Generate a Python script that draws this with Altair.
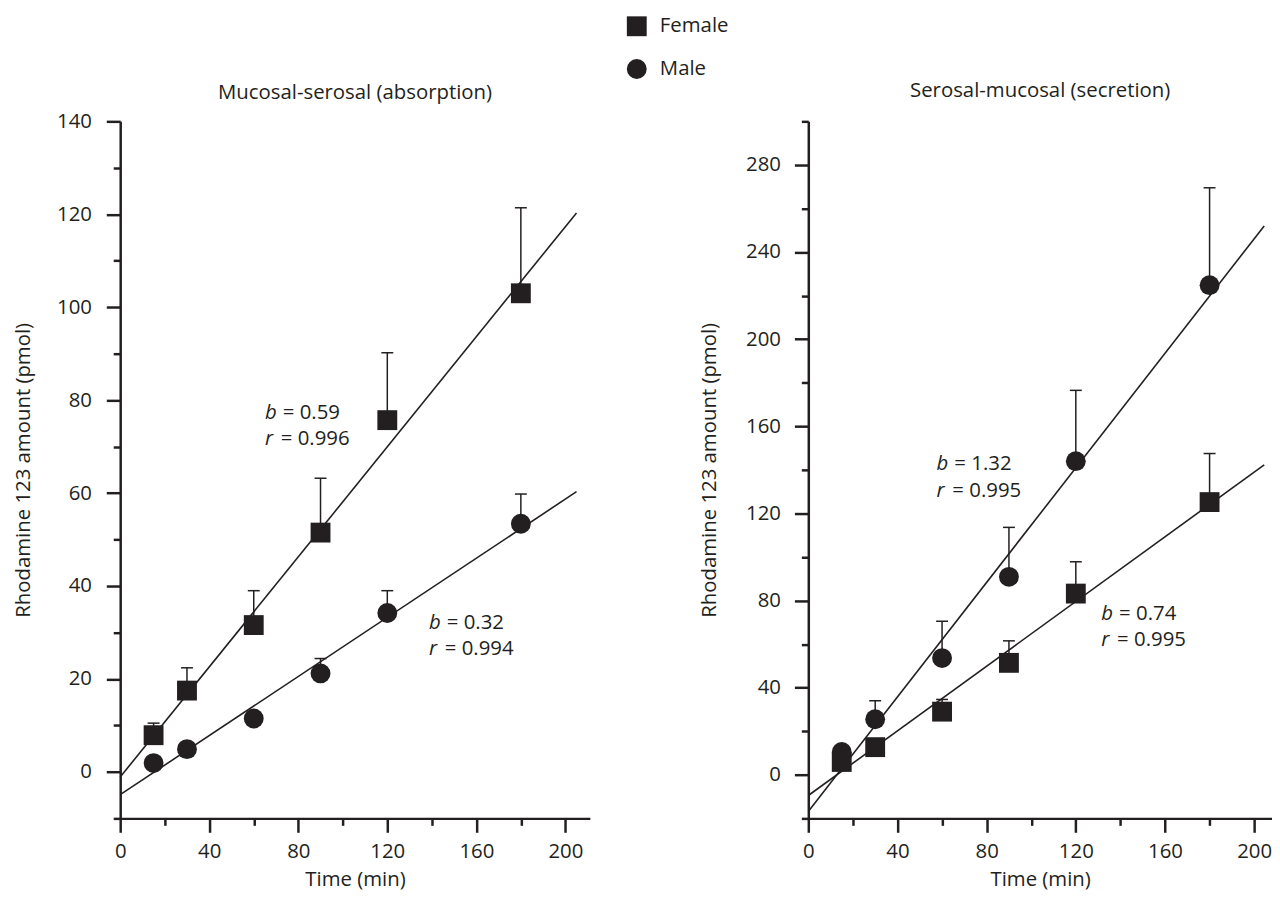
import altair as alt
import pandas as pd

INK = "#231f20"
FONT = "Open Sans"
FS = 20.5

# ---------------- data ----------------
time_min = [15, 30, 60, 90, 120, 180]

# Mucosal-serosal (absorption)
abs_female = [7.9, 17.5, 31.6, 51.5, 75.7, 103.0]
abs_female_top = [10.5, 22.4, 39.0, 63.2, 90.2, 121.4]
abs_male = [1.9, 4.9, 11.5, 21.2, 34.2, 53.4]
abs_male_top = [None, None, None, 24.4, 39.0, 59.8]

# Serosal-mucosal (secretion)
sec_female = [5.9, 12.7, 29.0, 51.4, 83.2, 125.2]
sec_female_top = [None, None, 34.6, 61.5, 97.8, 147.5]
sec_male = [10.5, 25.5, 53.6, 90.9, 144.0, 224.8]
sec_male_top = [None, 34.0, 70.5, 113.6, 176.5, 269.5]

# regression line end points
abs_fit_x = [0, 205]
abs_fit_female = [-1.1, 120.3]
abs_fit_male = [-4.9, 60.3]
sec_fit_x = [0, 204.5]
sec_fit_female = [-9.5, 142.3]
sec_fit_male = [-16.8, 252.0]

# annotations
abs_ann_letter = ["b", "r", "b", "r"]
abs_ann_rest = ["= 0.59", "= 0.996", "= 0.32", "= 0.994"]
abs_ann_x = [65, 65, 138.7, 138.7]
abs_ann_y = [77.2, 71.6, 32.0, 26.4]

sec_ann_letter = ["b", "r", "b", "r"]
sec_ann_rest = ["= 1.32", "= 0.995", "= 0.74", "= 0.995"]
sec_ann_x = [57.5, 57.5, 131.4, 131.4]
sec_ann_y = [142.7, 130.5, 73.8, 61.7]

# axis ticks
x_major_ticks = [0, 40, 80, 120, 160, 200]
x_minor_ticks = [20, 60, 100, 140, 180]
abs_y_major = [0, 20, 40, 60, 80, 100, 120, 140]
abs_y_minor = [-10, 10, 30, 50, 70, 90, 110, 130]
sec_y_major = [0, 40, 80, 120, 160, 200, 240, 280]
sec_y_minor = [-20, 20, 60, 100, 140, 180, 220, 260, 300]

sexes = ["Female", "Male"]
shapes = ["square", "circle"]


def points_frame(female, female_top, male, male_top):
    rows = []
    for sex, vals, tops in (("Female", female, female_top), ("Male", male, male_top)):
        for t, v, top in zip(time_min, vals, tops):
            rows.append({"t": t, "v": v, "top": top, "sex": sex})
    return pd.DataFrame(rows)


def fit_frame(xs, female, male):
    rows = []
    for sex, vals in (("Female", female), ("Male", male)):
        for t, v in zip(xs, vals):
            rows.append({"t": t, "v": v, "sex": sex})
    return pd.DataFrame(rows)


def ann_frame(letters, rests, xs, ys):
    return pd.DataFrame({"letter": letters, "rest": rests, "t": xs, "v": ys})


legend = alt.Legend(
    orient="none", legendX=510, legendY=-106, title=None,
    symbolSize=400, symbolFillColor=INK, symbolStrokeWidth=0, symbolOpacity=1,
    labelFont=FONT, labelFontSize=FS, labelColor=INK, labelOffset=13,
    rowPadding=22,
)


def panel(pts, fit, ann, xmax, ydom, y_major, y_minor, title, w, h,
          y_label_pad, y_title_pad, title_offset):
    xs = alt.Scale(domain=[0, xmax], nice=False, zero=False)
    ys = alt.Scale(domain=ydom, nice=False, zero=False)
    x_axis = alt.Axis(values=x_major_ticks, tickSize=14, labelPadding=9,
                      title="Time (min)", titlePadding=8, labelFlush=False)
    y_axis = alt.Axis(values=y_major, tickSize=14, labelPadding=y_label_pad,
                      title="Rhodamine 123 amount (pmol)", titlePadding=y_title_pad)

    def X(field="t", axis=None):
        return alt.X(f"{field}:Q", scale=xs, axis=axis)

    def Y(field="v", axis=None):
        return alt.Y(f"{field}:Q", scale=ys, axis=axis)

    base = alt.Chart(pts)
    err = base.transform_filter("isValid(datum.top)")

    lines = alt.Chart(fit).mark_line(color=INK, strokeWidth=1.6).encode(
        x=X(), y=Y(), detail="sex:N")
    rules = err.mark_rule(color=INK, strokeWidth=1.5).encode(
        x=X(), y=Y(), y2="top:Q")
    caps = err.mark_point(shape="M-1,0L1,0", size=144, filled=False,
                          color=INK, strokeWidth=1.5, opacity=1).encode(
        x=X(), y=Y("top"))
    points = base.mark_point(filled=True, size=400, color=INK, opacity=1).encode(
        x=X(axis=x_axis), y=Y(axis=y_axis),
        shape=alt.Shape("sex:N", scale=alt.Scale(domain=sexes, range=shapes),
                        legend=legend))
    letters = alt.Chart(ann).mark_text(
        align="left", baseline="middle", font=FONT, fontSize=FS,
        fontStyle="italic", color=INK).encode(x=X(), y=Y(), text="letter:N")
    rests_b = alt.Chart(ann).transform_filter("datum.letter === 'b'").mark_text(
        align="left", baseline="middle", font=FONT, fontSize=FS, dx=18,
        color=INK).encode(x=X(), y=Y(), text="rest:N")
    rests_r = alt.Chart(ann).transform_filter("datum.letter === 'r'").mark_text(
        align="left", baseline="middle", font=FONT, fontSize=FS, dx=16,
        color=INK).encode(x=X(), y=Y(), text="rest:N")
    minor = base.mark_point(opacity=0).encode(
        x=X(axis=alt.Axis(values=x_minor_ticks, tickSize=7, labels=False,
                          domain=False, title=None, orient="bottom")),
        y=Y(axis=alt.Axis(values=y_minor, tickSize=7, labels=False,
                          domain=False, title=None, orient="left")),
    )
    return alt.layer(lines, rules, caps, points, letters, rests_b, rests_r,
                     minor).resolve_axis(
        x="independent", y="independent"
    ).properties(
        width=w, height=h,
        title=alt.TitleParams(title, fontSize=FS, font=FONT, fontWeight="normal",
                              color=INK, offset=title_offset, anchor="middle"),
    )


left = panel(points_frame(abs_female, abs_female_top, abs_male, abs_male_top),
             fit_frame(abs_fit_x, abs_fit_female, abs_fit_male),
             ann_frame(abs_ann_letter, abs_ann_rest, abs_ann_x, abs_ann_y),
             211, [-10, 140], abs_y_major, abs_y_minor,
             "Mucosal-serosal (absorption)", 473, 702, 15, 23.5, 8.5)

right = panel(points_frame(sec_female, sec_female_top, sec_male, sec_male_top),
              fit_frame(sec_fit_x, sec_fit_female, sec_fit_male),
              ann_frame(sec_ann_letter, sec_ann_rest, sec_ann_x, sec_ann_y),
              208, [-20, 300], sec_y_major, sec_y_minor,
              "Serosal-mucosal (secretion)", 467, 702, 14, 26, 18.5)

chart = alt.hconcat(left, right, spacing=110).resolve_scale(
    shape="shared").resolve_legend(shape="shared").configure_view(
    stroke=None).configure_axis(
    domainColor=INK, domainWidth=2.5, tickColor=INK, tickWidth=2.5,
    labelColor=INK, titleColor=INK, labelFont=FONT, labelFontSize=FS,
    titleFont=FONT, titleFontSize=FS, titleFontWeight="normal", grid=False,
).properties(background="white",
             padding={"left": 5, "top": 5, "right": 0, "bottom": 0})

chart.save("out.html", embed_options={"renderer": "svg", "actions": False})
